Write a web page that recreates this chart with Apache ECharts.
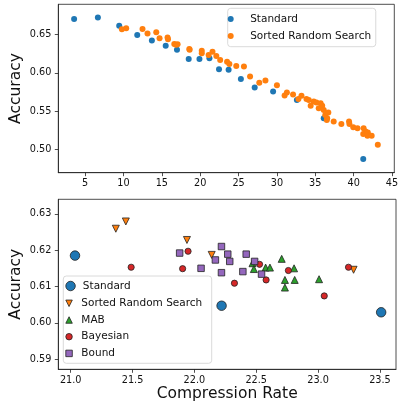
<!DOCTYPE html>
<html>
<head>
<meta charset="utf-8">
<script src="https://cdn.jsdelivr.net/npm/echarts@6/dist/echarts.min.js"></script>
<style>html,body{margin:0;padding:0;background:#fff}#c{width:398px;height:409px}</style>
</head>
<body>
<div id="c"></div>
<script>
// ---------- Data ----------
const topXTicks = [5, 10, 15, 20, 25, 30, 35, 40, 45];
const topYTicks = [0.50, 0.55, 0.60, 0.65];
const botXTicks = [21.0, 21.5, 22.0, 22.5, 23.0, 23.5];
const botYTicks = [0.59, 0.60, 0.61, 0.62, 0.63];

const topStandard = [
  [3.56,0.670],[6.66,0.672],[9.44,0.661],[11.79,0.649],[13.7,0.642],[15.5,0.635],
  [16.97,0.630],[18.5,0.618],[19.9,0.618],[21.2,0.619],[22.45,0.6045],[23.7,0.604],
  [25.3,0.592],[27.1,0.581],[29.5,0.5755],[32.6,0.5647],[36.1,0.541],[41.25,0.488]
];
const topSorted = [
  [9.79,0.6565],[10.35,0.658],[12.48,0.657],[13.13,0.651],[14.27,0.6526],[14.7,0.645],
  [15.74,0.646],[15.8,0.6435],[16.62,0.6374],[16.85,0.6365],[17.05,0.637],[18.58,0.631],
  [18.62,0.630],[20.2,0.6287],[20.2,0.6253],[21.1,0.623],[21.6,0.6274],[22.1,0.6218],
  [22.6,0.6166],[23.5,0.6144],[23.8,0.6114],[24.7,0.6088],[25.7,0.608],[26.5,0.595],
  [27.7,0.587],[28.5,0.590],[30.0,0.5838],[31.0,0.5703],[31.3,0.5742],[32.1,0.5716],
  [32.8,0.566],[33.2,0.570],[33.85,0.566],[34.15,0.5647],[34.4,0.557],[34.8,0.5625],
  [35.15,0.5612],[35.45,0.554],[35.7,0.5604],[35.9,0.557],[36.1,0.5517],[36.3,0.5452],
  [36.55,0.541],[36.7,0.5482],[36.5,0.5387],[37.4,0.5365],[38.4,0.5335],[39.4,0.5365],
  [39.45,0.5335],[39.95,0.5292],[40.5,0.528],[41.3,0.528],[41.25,0.5205],[41.55,0.5235],
  [41.85,0.5222],[41.8,0.518],[42.35,0.518],[43.15,0.5063]
];

const botStandard = [[21.035,0.6185],[22.22,0.6047],[23.51,0.6029]];
const botSorted = [[21.365,0.6259],[21.446,0.6279],[21.94,0.6228],[22.14,0.6187],[23.287,0.6146]];
const botMAB = [
  [22.47,0.6164],[22.481,0.6148],[22.576,0.6152],[22.611,0.6152],[22.706,0.6176],
  [22.806,0.6150],[22.732,0.6118],[22.811,0.6118],[22.732,0.6097],[23.008,0.6120]
];
const botBayesian = [
  [21.489,0.6153],[21.905,0.6149],[21.949,0.6197],[22.324,0.6109],[22.527,0.6161],
  [22.58,0.6118],[22.76,0.6144],[23.05,0.6074],[23.246,0.6153]
];
const botBound = [
  [21.881,0.6192],[22.054,0.6150],[22.17,0.6173],[22.219,0.6210],[22.219,0.6138],
  [22.27,0.6189],[22.286,0.6169],[22.392,0.6141],[22.419,0.6189],[22.487,0.6169],[22.543,0.6134]
];

// ---------- Chart ----------
const FONT = 'DejaVu Sans';
const AX = '#222';
const chart = echarts.init(document.getElementById('c'), null, {renderer: 'canvas'});
const stripB = n => n.replace(/ \(b\)$/, '');
const edge = {borderColor: '#222', borderWidth: 0.8, opacity: 1};

function xAxisCfg(grid, min, max, ticks, dec, name) {
  return {
    type: 'value', gridIndex: grid, min: min, max: max,
    name: name || '', nameLocation: 'middle', nameGap: 12,
    nameTextStyle: {fontFamily: FONT, fontSize: 15.5, color: '#111'},
    axisLine: {show: true, lineStyle: {color: AX, width: 0.8}},
    axisTick: {show: true, customValues: ticks, length: 3.5, lineStyle: {color: AX, width: 0.8}},
    axisLabel: {customValues: ticks, margin: 6, fontFamily: FONT, fontSize: 9.7, color: '#111',
      formatter: v => dec == null ? String(v) : Number(v).toFixed(dec)},
    splitLine: {show: false}
  };
}
function yAxisCfg(grid, min, max, ticks) {
  return {
    type: 'value', gridIndex: grid, min: min, max: max,
    name: 'Accuracy', nameLocation: 'middle', nameGap: 34, nameMoveOverlap: false,
    nameTextStyle: {fontFamily: FONT, fontSize: 15.5, color: '#111'},
    axisLine: {show: true, lineStyle: {color: AX, width: 0.8}},
    axisTick: {show: true, customValues: ticks, length: 3.5, lineStyle: {color: AX, width: 0.8}},
    axisLabel: {customValues: ticks, margin: 7, fontFamily: FONT, fontSize: 9.7, color: '#111',
      formatter: v => Number(v).toFixed(2)},
    splitLine: {show: false}
  };
}

const option = {
  animation: false,
  backgroundColor: '#fff',
  grid: [
    {left: 58.3, top: 4.3, width: 336, height: 168.4, show: true, borderColor: AX, borderWidth: 0.8, outerBoundsMode: 'none'},
    {left: 58.3, top: 199.3, width: 337.7, height: 170, show: true, borderColor: AX, borderWidth: 0.8, outerBoundsMode: 'none'}
  ],
  xAxis: [
    xAxisCfg(0, 1.5, 45.3, topXTicks, null, ''),
    xAxisCfg(1, 20.9, 23.63, botXTicks, 1, 'Compression Rate')
  ],
  yAxis: [
    yAxisCfg(0, 0.4701, 0.689, topYTicks),
    yAxisCfg(1, 0.5872, 0.634, botYTicks)
  ],
  legend: [
    {
      orient: 'vertical', left: 227.7, top: 8.3, padding: [5.2, 4.7, 5.2, 0],
      itemWidth: 29, itemHeight: 6, itemGap: 6, selectedMode: false,
      borderColor: '#d0d0d0', borderWidth: 0.8, borderRadius: 3, backgroundColor: 'rgba(255,255,255,0.8)',
      itemStyle: {borderWidth: 0, opacity: 1},
      textStyle: {fontFamily: FONT, fontSize: 10.5, lineHeight: 11, color: '#111'},
      data: [{name: 'Standard', icon: 'circle'}, {name: 'Sorted Random Search', icon: 'circle'}]
    },
    {
      orient: 'vertical', left: 65.4, top: 280.5, padding: 0, z: 6,
      itemWidth: 14.6, itemHeight: 9.5, itemGap: 5.7, selectedMode: false,
      itemStyle: edge, formatter: stripB,
      textStyle: {fontFamily: FONT, fontSize: 10.5, lineHeight: 11, color: '#111'},
      data: [{name: 'Standard (b)', icon: 'circle'}]
    },
    {
      orient: 'vertical', left: 65.4, top: 297.8, padding: 0, z: 6,
      itemWidth: 14.6, itemHeight: 6.5, itemGap: 5.7, selectedMode: false,
      itemStyle: edge, formatter: stripB,
      textStyle: {fontFamily: FONT, fontSize: 10.5, lineHeight: 11, color: '#111'},
      data: [
        {name: 'Sorted Random Search (b)', icon: 'path://M0,0L2,0L1,2Z'},
        {name: 'MAB (b)', icon: 'path://M1,0L2,2L0,2Z'},
        {name: 'Bayesian (b)', icon: 'circle'},
        {name: 'Bound (b)', icon: 'path://M0,0L1,0L1,1L0,1Z'}
      ]
    }
  ],
  graphic: [{
    type: 'rect', z: 5,
    shape: {x: 63.3, y: 276, width: 148.4, height: 87.3, r: 3},
    style: {fill: 'rgba(255,255,255,0.8)', stroke: '#d0d0d0', lineWidth: 0.8}
  }],
  series: [
    {type: 'scatter', name: 'Standard', xAxisIndex: 0, yAxisIndex: 0, data: topStandard,
      symbol: 'circle', symbolSize: 6, itemStyle: {color: '#1f77b4', opacity: 1}, emphasis: {disabled: true}},
    {type: 'scatter', name: 'Sorted Random Search', xAxisIndex: 0, yAxisIndex: 0, data: topSorted,
      symbol: 'circle', symbolSize: 6, itemStyle: {color: '#ff7f0e', opacity: 1}, emphasis: {disabled: true}},
    {type: 'scatter', name: 'Standard (b)', xAxisIndex: 1, yAxisIndex: 1, data: botStandard,
      symbol: 'circle', symbolSize: 9.5, itemStyle: Object.assign({color: '#1f77b4'}, edge), emphasis: {disabled: true}},
    {type: 'scatter', name: 'Sorted Random Search (b)', xAxisIndex: 1, yAxisIndex: 1, data: botSorted,
      symbol: 'triangle', symbolRotate: 180, symbolSize: 7, itemStyle: Object.assign({color: '#ff7f0e'}, edge), emphasis: {disabled: true}},
    {type: 'scatter', name: 'MAB (b)', xAxisIndex: 1, yAxisIndex: 1, data: botMAB,
      symbol: 'triangle', symbolSize: 7, itemStyle: Object.assign({color: '#2ca02c'}, edge), emphasis: {disabled: true}},
    {type: 'scatter', name: 'Bayesian (b)', xAxisIndex: 1, yAxisIndex: 1, data: botBayesian,
      symbol: 'circle', symbolSize: 6.2, itemStyle: Object.assign({color: '#d62728'}, edge), emphasis: {disabled: true}},
    {type: 'scatter', name: 'Bound (b)', xAxisIndex: 1, yAxisIndex: 1, data: botBound,
      symbol: 'rect', symbolSize: 6.5, itemStyle: Object.assign({color: '#9467bd'}, edge), emphasis: {disabled: true}}
  ]
};
chart.setOption(option);
</script>
</body>
</html>
